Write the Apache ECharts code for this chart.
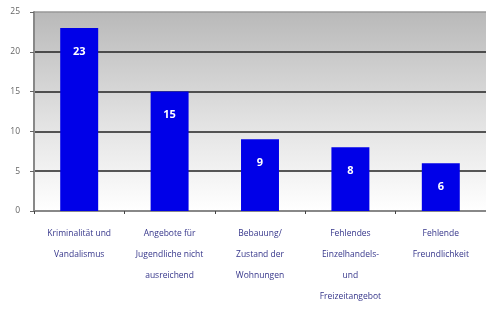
<!DOCTYPE html>
<html>
<head>
<meta charset="utf-8">
<script src="https://cdn.jsdelivr.net/npm/echarts@6/dist/echarts.min.js"></script>
<style>
  html, body { margin: 0; padding: 0; background: #fff; }
  #chart { width: 486px; height: 318px; }
</style>
</head>
<body>
<div id="chart"></div>
<script>
var categories = [
  "Kriminalität und\nVandalismus",
  "Angebote für\nJugendliche nicht\nausreichend",
  "Bebauung/\nZustand der\nWohnungen",
  "Fehlendes\nEinzelhandels-\nund\nFreizeitangebot",
  "Fehlende\nFreundlichkeit"
];
var values = [23, 15, 9, 8, 6];
var yTicks = [0, 5, 10, 15, 20, 25];

var chart = echarts.init(document.getElementById("chart"));
chart.setOption({
  backgroundColor: "#fff",
  animation: false,
  textStyle: { fontFamily: "Open Sans" },
  grid: {
    left: 34,
    top: 12,
    width: 455,
    height: 199,
    show: true,
    borderWidth: 0,
    backgroundColor: new echarts.graphic.LinearGradient(0, 0, 0, 1, [
      { offset: 0, color: "#b9b9b9" },
      { offset: 0.55, color: "#e2e2e2" },
      { offset: 1, color: "#ffffff" }
    ])
  },
  xAxis: {
    type: "category",
    data: categories,
    axisLine: { lineStyle: { color: "#888", width: 2 } },
    axisTick: { show: true, length: 3, lineStyle: { color: "#444" } },
    axisLabel: {
      color: "#35358a",
      fontSize: 8.5,
      lineHeight: 21,
      margin: 12,
      interval: 0
    }
  },
  yAxis: {
    type: "value",
    min: yTicks[0],
    max: yTicks[yTicks.length - 1],
    interval: 5,
    axisLine: { show: true, lineStyle: { color: "#888", width: 2 } },
    axisTick: { show: true, length: 4, lineStyle: { color: "#666" } },
    axisLabel: { color: "#666", fontSize: 8.5, margin: 14 },
    splitLine: {
      lineStyle: {
        color: ["#222", "#222", "#222", "#222", "#222", "#999"],
        width: 1.5
      }
    }
  },
  series: [
    {
      type: "bar",
      data: values,
      barWidth: "42%",
      itemStyle: { color: "#0000e8" },
      label: {
        show: true,
        position: "insideTop",
        distance: 18,
        color: "#fff",
        fontWeight: "bold",
        fontSize: 11
      }
    }
  ]
});
</script>
</body>
</html>
